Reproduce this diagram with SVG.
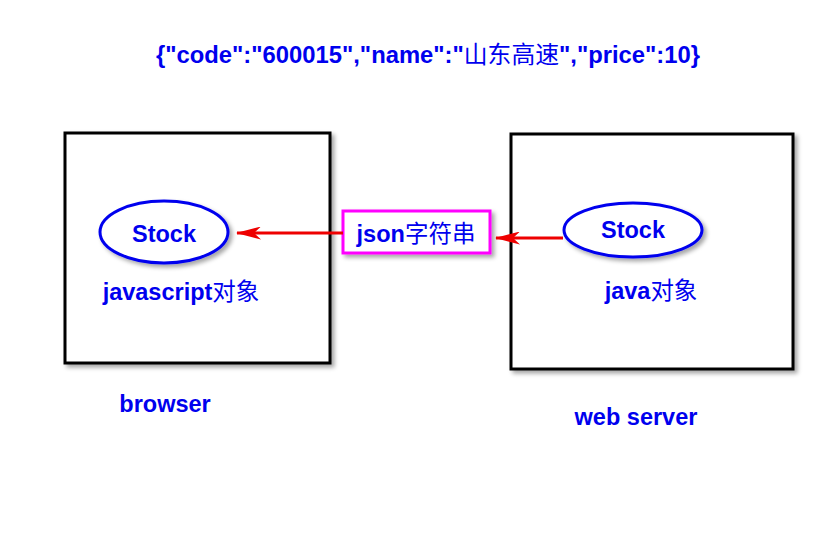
<svg xmlns="http://www.w3.org/2000/svg" width="837" height="537" viewBox="0 0 837 537">
<style>
.t{font-family:"Liberation Sans","Noto Sans CJK SC",sans-serif;font-weight:bold;fill:#0000ee}
.c{font-family:"Noto Sans CJK SC",sans-serif;font-weight:normal}
.box{fill:#fff;stroke:#000;stroke-width:3;filter:url(#sh)}
.ell{fill:#fff;stroke:#0000ee;stroke-width:3;filter:url(#sh)}
.arr{stroke:#ee0000;stroke-width:3;fill:none;marker-end:url(#ah)}
</style>
<defs>
<filter id="sh" x="-10%" y="-10%" width="130%" height="130%">
<feDropShadow dx="3" dy="3" stdDeviation="2" flood-color="#000" flood-opacity="0.35"/>
</filter>
<marker id="ah" viewBox="0 0 25 13" refX="24" refY="6.5" markerWidth="25" markerHeight="13" orient="auto" markerUnits="userSpaceOnUse">
<path d="M0,0 L25,6.5 L0,13 L7,6.5 Z" fill="#ee0000"/>
</marker>
</defs>
<rect width="837" height="537" fill="#fff"/>
<text class="t" x="428" y="63" font-size="23.8" text-anchor="middle">{"code":"600015","name":"<tspan class="c">山东高速</tspan>","price":10}</text>
<g id="browser">
<rect class="box" x="65" y="133" width="265" height="230"/>
<text class="t" x="165" y="412" font-size="23.5" text-anchor="middle">browser</text>
</g>
<g id="server">
<rect class="box" x="511" y="134" width="282" height="235"/>
<text class="t" x="636" y="425" font-size="23.5" text-anchor="middle">web server</text>
</g>
<g id="jsobj">
<ellipse class="ell" cx="164" cy="232" rx="64" ry="31"/>
<text class="t" x="164" y="242" font-size="23.5" text-anchor="middle">Stock</text>
<text class="t" x="181" y="300" font-size="23.5" text-anchor="middle">javascript<tspan class="c">对象</tspan></text>
</g>
<g id="javaobj">
<ellipse class="ell" cx="633" cy="230" rx="69" ry="27"/>
<text class="t" x="633" y="238" font-size="23.5" text-anchor="middle">Stock</text>
<text class="t" x="651" y="299" font-size="23.5" text-anchor="middle">java<tspan class="c">对象</tspan></text>
</g>
<g id="json">
<rect x="343" y="211" width="147" height="42" fill="#fff" stroke="#ff00ff" stroke-width="3" filter="url(#sh)"/>
<text class="t" x="416" y="242" font-size="23.5" text-anchor="middle">json<tspan class="c">字符串</tspan></text>
</g>
<g id="connectors">
<line class="arr" x1="343" y1="233" x2="237" y2="233"/>
<line class="arr" x1="563" y1="238" x2="496" y2="238"/>
</g>
</svg>
